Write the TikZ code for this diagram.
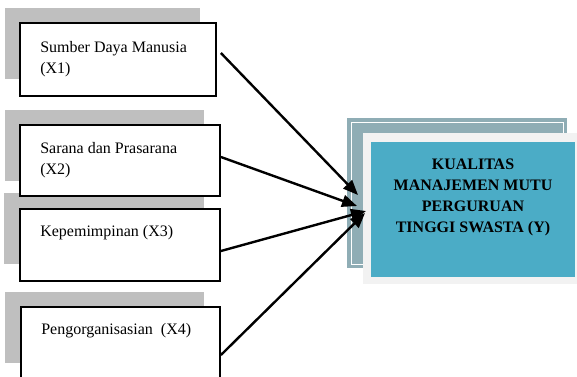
\documentclass[tikz,border=0pt]{standalone}
\usepackage{fontspec}
\setmainfont{Liberation Serif}
\usetikzlibrary{arrows.meta}
\definecolor{shadowgray}{HTML}{BFBFBF}
\definecolor{framegray}{HTML}{8FADB5}
\definecolor{panelgray}{HTML}{F2F2F2}
\definecolor{ybluefill}{HTML}{4BACC6}

\begin{document}
\begin{tikzpicture}[x=1pt, y=-1pt,
  varbox/.style={draw, line width=1.8pt, fill=white, inner sep=0pt, minimum height=72pt},
  vartext/.style={font=\fontsize{16}{21}\selectfont, align=left, inner sep=0pt, anchor=north west},
  ytext/.style={font=\fontsize{16}{21}\selectfont\bfseries, align=center, inner sep=0pt, anchor=north},
  link/.style={-{Triangle[length=15pt, width=12pt]}, line width=2.4pt, black}]
\useasboundingbox (0, 0) rectangle (577, 376);

\fill [shadowgray] (5, 8) rectangle (200, 79);
\fill [shadowgray] (5, 110) rectangle (204, 181);
\fill [shadowgray] (4, 193) rectangle (204, 264);
\fill [shadowgray] (5, 292) rectangle (204, 363);

\node [varbox, minimum width=196pt, minimum height=73pt] (sdm) at (118, 59.5) {};
\node [varbox, minimum width=200pt, minimum height=71pt] (sarana) at (120, 160.5) {};
\node [varbox, minimum width=200pt] (pimpin) at (120, 245) {};
\node [varbox, minimum width=199pt, minimum height=73pt] (organ) at (120.5, 343.5) {};

\node [vartext] (sdmtext) at ([xshift=21pt, yshift=-19pt]sdm.north west) {Sumber Daya Manusia\\(X1)};
\node [vartext] (saranatext) at ([xshift=21pt, yshift=-18.5pt]sarana.north west) {Sarana dan Prasarana\\(X2)};
\node [vartext] (pimpintext) at ([xshift=21pt, yshift=-17.5pt]pimpin.north west) {Kepemimpinan (X3)};
\node [vartext] (organtext) at ([xshift=21pt, yshift=-17.5pt]organ.north west) {Pengorganisasian~~(X4)};

\fill [framegray] (347, 118) rectangle (567, 268);
\draw [white, line width=0.8pt] (351, 122) rectangle (563, 264);
\fill [panelgray] (363, 133) rectangle (580, 284);
\node [fill=ybluefill, inner sep=0pt, minimum width=204pt, minimum height=135pt] (kualitas) at (473, 209.5) {};
\node [ytext] (kualitastext) at ([yshift=-17pt]kualitas.north) {KUALITAS\\MANAJEMEN MUTU\\PERGURUAN\\TINGGI SWASTA (Y)};

\coordinate (tipa) at (358, 195);
\coordinate (tipb) at (357, 206);
\coordinate (tipc) at (366, 211);
\coordinate (tipd) at (365, 213);
\draw [link] ([xshift=4pt, yshift=6.5pt]sdm.east) -- (tipa);
\draw [link] ([yshift=3.5pt]sarana.east) -- (tipb);
\draw [link] ([yshift=-6pt]pimpin.east) -- (tipc);
\draw [link] ([yshift=-11.5pt]organ.east) -- (tipd);
\end{tikzpicture}
\end{document}
